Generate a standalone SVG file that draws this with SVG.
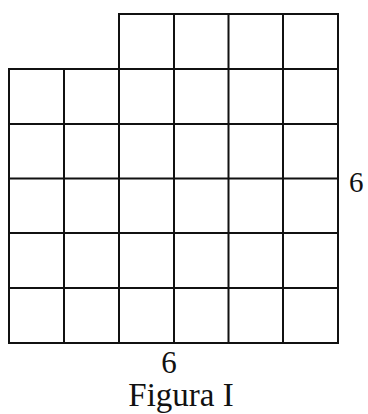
<svg xmlns="http://www.w3.org/2000/svg" width="368" height="414" viewBox="0 0 368 414">
<style>
.g{fill:none;stroke:#111;stroke-width:2;stroke-linecap:square}
.t{font-family:"Liberation Serif","Times New Roman",serif;fill:#111}
</style>
<rect width="368" height="414" fill="#fff"/>
<g id="grid">
<path class="g" d="M119,14H338 M9,69H338 M9,124H338 M9,178.5H338 M9,233H338 M9,288H338 M9,343H338"/>
<path class="g" d="M9,69V343 M64,69V343 M119,14V343 M174,14V343 M228.5,14V343 M283,14V343 M338,14V343"/>
</g>
<g id="labels">
<text class="t" x="349" y="192" font-size="29">6</text>
<text class="t" x="169" y="373" font-size="31" text-anchor="middle">6</text>
<text class="t" x="181" y="406" font-size="33" text-anchor="middle">Figura I</text>
</g>
</svg>
